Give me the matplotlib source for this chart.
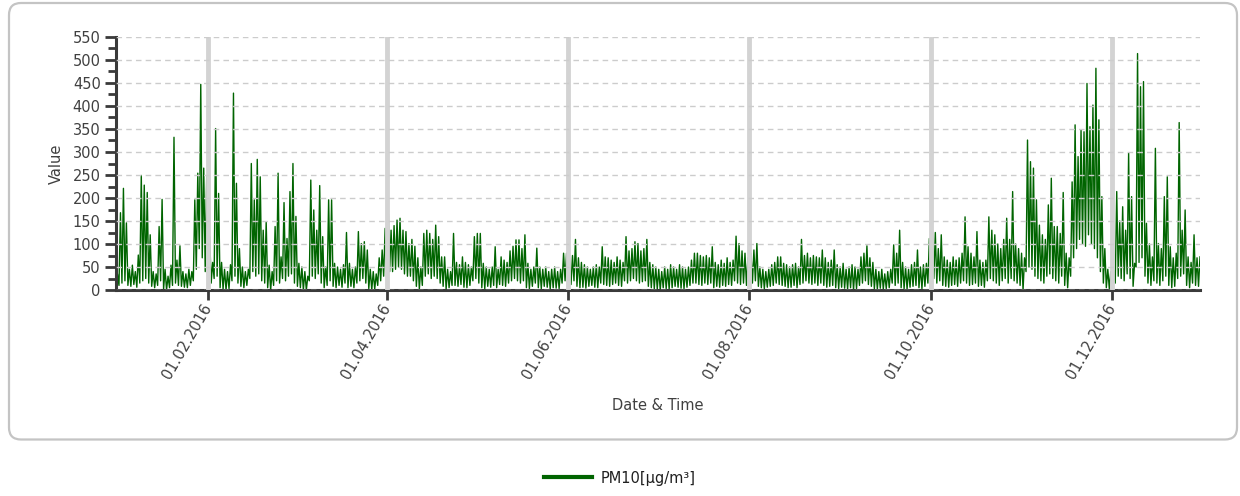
import matplotlib
matplotlib.use("Agg")
import matplotlib.pyplot as plt
import matplotlib.dates as mdates
from matplotlib.patches import FancyBboxPatch
from matplotlib.ticker import MultipleLocator
import numpy as np
import pandas as pd

# Daily PM10 extremes, 1 Jan 2016 .. 30 Dec 2016 (µg/m³)
daily_high = [
    35, 168, 221, 146, 45, 54, 40, 76, 249, 228,
    212, 120, 40, 35, 138, 197, 45, 30, 54, 332,
    65, 96, 40, 35, 45, 40, 196, 254, 447, 265,
    246, 116, 60, 351, 210, 60, 45, 40, 55, 428,
    232, 90, 50, 40, 45, 275, 196, 284, 246, 130,
    148, 54, 40, 138, 254, 72, 190, 112, 214, 275,
    160, 58, 50, 40, 30, 239, 174, 130, 227, 116,
    50, 196, 196, 58, 50, 45, 55, 125, 58, 45,
    50, 127, 101, 105, 87, 45, 40, 35, 70, 87,
    134, 185, 130, 140, 152, 156, 130, 127, 101, 110,
    95, 70, 50, 123, 130, 123, 110, 141, 116, 72,
    72, 45, 40, 123, 60, 55, 72, 60, 55, 50,
    116, 123, 123, 58, 50, 45, 50, 94, 45, 72,
    65, 60, 85, 95, 109, 109, 90, 120, 58, 45,
    50, 91, 50, 45, 50, 40, 45, 50, 40, 45,
    80, 80, 70, 75, 110, 70, 60, 55, 50, 45,
    50, 55, 50, 94, 72, 70, 65, 60, 72, 65,
    60, 116, 85, 90, 105, 101, 85, 90, 110, 60,
    55, 50, 45, 40, 50, 45, 55, 50, 45, 55,
    50, 45, 50, 65, 80, 80, 75, 72, 75, 70,
    94, 60, 55, 65, 58, 70, 60, 65, 117, 101,
    85, 80, 70, 80, 87, 101, 50, 45, 40, 45,
    55, 60, 72, 72, 58, 55, 50, 55, 58, 50,
    110, 75, 80, 70, 75, 72, 70, 87, 70, 60,
    65, 87, 55, 50, 58, 45, 50, 55, 50, 45,
    72, 80, 96, 70, 60, 45, 40, 45, 35, 40,
    45, 98, 80, 130, 60, 50, 45, 55, 60, 87,
    50, 55, 58, 112, 130, 125, 90, 120, 72, 65,
    60, 72, 65, 70, 80, 159, 94, 80, 72, 127,
    65, 60, 65, 159, 130, 120, 100, 90, 110, 156,
    110, 214, 100, 90, 80, 70, 326, 279, 265, 196,
    141, 120, 110, 185, 243, 138, 138, 123, 212, 80,
    70, 235, 359, 290, 348, 344, 449, 355, 402, 482,
    370, 203, 90, 45, 40, 43, 214, 150, 181, 130,
    298, 203, 58, 514, 442, 453, 145, 100, 72, 308,
    101, 90, 203, 246, 94, 70, 80, 364, 130, 174,
    72, 60, 120, 70, 72,
]

daily_low = [
    5, 10, 15, 20, 10, 8, 12, 6, 15, 20,
    25, 15, 8, 5, 10, 20, 2, 0, 5, 10,
    15, 10, 8, 6, 5, 10, 20, 45, 90, 70,
    40, 20, 15, 25, 30, 5, 2, 0, 3, 20,
    30, 15, 8, 5, 10, 25, 40, 30, 35, 20,
    15, 5, 0, 10, 20, 15, 25, 20, 30, 35,
    15, 8, 5, 0, 0, 20, 30, 25, 35, 15,
    5, 10, 20, 8, 5, 10, 6, 15, 5, 8,
    5, 15, 20, 25, 15, 3, 0, 2, 10, 20,
    30, 45, 40, 40, 45, 50, 45, 35, 30, 30,
    20, 8, 2, 10, 30, 35, 25, 30, 25, 15,
    8, 2, 5, 10, 10, 8, 12, 6, 5, 10,
    20, 25, 15, 5, 3, 8, 6, 10, 5, 12,
    10, 8, 15, 20, 25, 20, 15, 20, 5, 3,
    8, 15, 5, 3, 8, 6, 2, 5, 4, 3,
    15, 20, 15, 12, 20, 8, 5, 6, 4, 8,
    10, 6, 5, 15, 12, 10, 8, 12, 15, 10,
    8, 20, 15, 20, 25, 20, 15, 18, 20, 8,
    5, 3, 2, 0, 5, 3, 2, 5, 8, 6,
    4, 3, 6, 10, 15, 15, 12, 10, 15, 12,
    15, 5, 8, 6, 10, 8, 12, 10, 20, 15,
    12, 15, 10, 12, 15, 20, 8, 5, 3, 6,
    8, 10, 15, 12, 10, 8, 5, 6, 10, 5,
    12, 15, 20, 15, 12, 15, 10, 15, 10, 6,
    8, 10, 5, 3, 6, 4, 2, 5, 0, 3,
    10, 15, 20, 12, 8, 3, 2, 4, 2, 3,
    5, 15, 10, 15, 5, 3, 2, 6, 8, 10,
    5, 3, 8, 15, 20, 25, 15, 20, 10, 8,
    6, 10, 12, 8, 15, 20, 15, 10, 12, 15,
    8, 10, 6, 20, 25, 20, 15, 10, 20, 25,
    15, 25, 20, 15, 10, 0, 40, 50, 45, 30,
    25, 20, 15, 30, 35, 25, 20, 15, 30, 10,
    5, 30, 70, 90, 110, 100, 95, 120, 100, 90,
    70, 40, 15, 5, 3, 2, 15, 30, 25, 20,
    35, 25, 8, 50, 60, 70, 30, 15, 10, 20,
    15, 10, 20, 30, 10, 5, 8, 25, 30, 35,
    10, 5, 15, 10, 8,
]

series_name = "PM10[µg/m³]"
x_label = "Date & Time"
y_label = "Value"

# Twice-daily readings: overnight minimum, midday maximum
values = np.column_stack([daily_low, daily_high]).ravel()
times = pd.date_range("2016-01-01 00:00", periods=len(values), freq="12h")

text_color = "#404040"
axis_color = "#3a3a3a"

plt.rcParams["font.family"] = ["DejaVu Sans"]

fig = plt.figure(figsize=(12.4, 4.96), dpi=100)
ax = fig.add_axes([116 / 1240, 206 / 496, 1084 / 1240, 253 / 496])

ax.plot(times, values, color="#006400", lw=1.0, label=series_name, zorder=2)

ax.set_xlim(times[0], times[-1])
ax.set_ylim(0, 550)

ax.yaxis.set_major_locator(MultipleLocator(50))
ax.yaxis.set_minor_locator(MultipleLocator(25))
ax.xaxis.set_major_locator(mdates.MonthLocator(bymonth=[2, 4, 6, 8, 10, 12]))
ax.xaxis.set_major_formatter(mdates.DateFormatter("%d.%m.%Y"))

for side in ("top", "right"):
    ax.spines[side].set_visible(False)
for side in ("left", "bottom"):
    ax.spines[side].set_color(axis_color)
    ax.spines[side].set_linewidth(2.2)

ax.tick_params(axis="y", which="major", direction="out", length=8, width=2,
               color=axis_color, labelcolor=text_color, labelsize=10.5, pad=3)
ax.tick_params(axis="y", which="minor", direction="out", length=6, width=2,
               color=axis_color)
ax.tick_params(axis="x", which="major", direction="out", length=7, width=2,
               color=axis_color, labelcolor=text_color, labelsize=10.5, pad=4)

for lbl in ax.get_xticklabels():
    lbl.set_rotation(60)
    lbl.set_ha("right")
    lbl.set_va("center")
    lbl.set_rotation_mode("anchor")

ax.set_axisbelow(False)
ax.grid(axis="y", which="major", color="#cccccc", lw=1.0, linestyle=(0, (4, 3)))
ax.grid(axis="x", which="major", color="#d3d3d3", lw=3.5, linestyle="-")

ax.set_xlabel(x_label, color=text_color, fontsize=10.5)
ax.set_ylabel(y_label, color=text_color, fontsize=10.5)
ax.xaxis.set_label_coords(0.5, -0.425)
ax.yaxis.set_label_coords(-0.048, 0.5)

# Rounded frame around the chart area
frame = FancyBboxPatch((0.09, 0.565), 12.28, 4.365,
                       boxstyle="round,pad=0,rounding_size=0.12",
                       transform=fig.dpi_scale_trans, fill=False,
                       edgecolor="#c4c4c4", lw=1.6, zorder=0)
fig.patches.append(frame)

leg = fig.legend(loc="center", bbox_to_anchor=(0.5, 1 - 478 / 496),
                 frameon=False, fontsize=10.5, handlelength=3.3,
                 handletextpad=0.6)
for h in leg.get_lines():
    h.set_linewidth(3)
for t in leg.get_texts():
    t.set_color("#202020")

fig.savefig("out.png", dpi=100)
